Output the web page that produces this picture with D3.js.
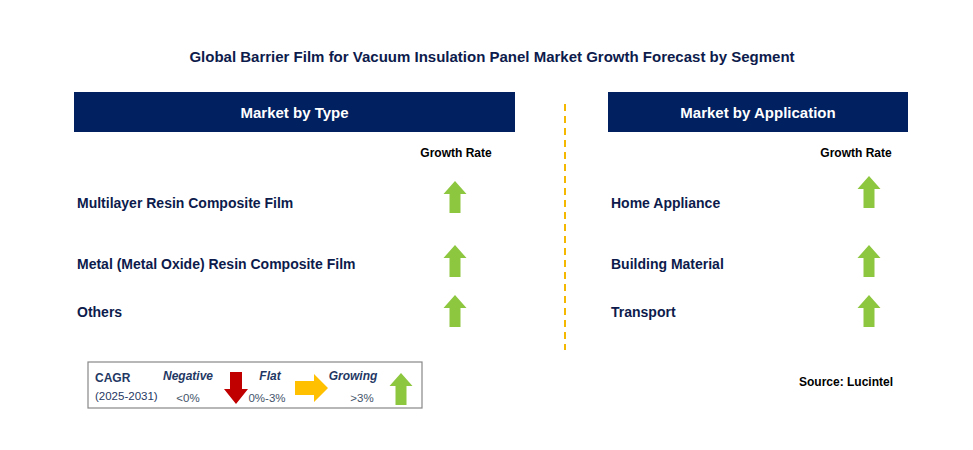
<!DOCTYPE html>
<html><head><meta charset="utf-8">
<script src="https://cdn.jsdelivr.net/npm/d3@7"></script>
<style>body{margin:0;background:#fff}text{font-family:Arial,"Liberation Sans",sans-serif}</style>
</head><body><svg id="c" width="973" height="450"></svg>
<script>
const typeCategories = ["Multilayer Resin Composite Film", "Metal (Metal Oxide) Resin Composite Film", "Others"];
const typeGrowth = ["growing", "growing", "growing"];
const appCategories = ["Home Appliance", "Building Material", "Transport"];
const appGrowth = ["growing", "growing", "growing"];
const legendLabels = ["Negative", "Flat", "Growing"];
const legendRanges = ["<0%", "0%-3%", ">3%"];

const svg = d3.select("#c");
const navy = "#002060", txt = "#0d1b4c";
const colors = {growing: "#8dc63f", negative: "#c00000", flat: "#ffc000"};

svg.append("text").attr("x", 492).attr("y", 62).attr("text-anchor", "middle")
  .attr("font-size", 15).attr("font-weight", "bold").attr("fill", txt)
  .text("Global Barrier Film for Vacuum Insulation Panel Market Growth Forecast by Segment");

function upArrow(g, cx, top, color) {
  const w = 23, sw = 11, hh = 13, h = 32;
  g.append("path").attr("fill", color).attr("d",
    `M${cx},${top} L${cx + w/2},${top + hh} L${cx + sw/2},${top + hh} L${cx + sw/2},${top + h} L${cx - sw/2},${top + h} L${cx - sw/2},${top + hh} L${cx - w/2},${top + hh} Z`);
}

function panel(x0, x1, title, cats, growth, ys, textX, arrowX, grX, rowTops) {
  svg.append("rect").attr("x", x0).attr("y", 92).attr("width", x1 - x0).attr("height", 40).attr("fill", navy);
  svg.append("text").attr("x", (x0 + x1) / 2).attr("y", 118).attr("text-anchor", "middle")
    .attr("fill", "#fff").attr("font-size", 15).attr("font-weight", "bold").text(title);
  svg.append("text").attr("x", grX).attr("y", 157).attr("text-anchor", "middle")
    .attr("fill", "#000").attr("font-size", 12).attr("font-weight", "bold").text("Growth Rate");
  const y = d3.scaleOrdinal().domain(cats).range(ys);
  const yt = d3.scaleOrdinal().domain(cats).range(rowTops);
  cats.forEach((c, i) => {
    svg.append("text").attr("x", textX).attr("y", y(c) + 5).attr("fill", txt)
      .attr("font-size", 14).attr("font-weight", "bold").text(c);
    upArrow(svg, arrowX, yt(c), colors[growth[i]]);
  });
}
panel(74, 515, "Market by Type", typeCategories, typeGrowth, [203, 264, 312], 77, 455, 456, [181, 245, 295]);
panel(608, 908, "Market by Application", appCategories, appGrowth, [203, 264, 312], 611, 869, 856, [176, 245, 295]);

svg.append("line").attr("x1", 565).attr("x2", 565).attr("y1", 104).attr("y2", 350)
  .attr("stroke", "#f5b800").attr("stroke-width", 2).attr("stroke-dasharray", "7,5");

// legend
const lg = svg.append("g");
lg.append("rect").attr("x", 88).attr("y", 362).attr("width", 334).attr("height", 46)
  .attr("fill", "#fff").attr("stroke", "#888").attr("stroke-width", 1.2);
lg.append("text").attr("x", 95).attr("y", 382).attr("fill", "#1f3864").attr("font-size", 12).attr("font-weight", "bold").text("CAGR");
lg.append("text").attr("x", 95).attr("y", 400).attr("fill", "#1f3864").attr("font-size", 11.5).text("(2025-2031)");
const lx = [188, 270, 353], rx = [188, 267, 362];
legendLabels.forEach((l, i) => {
  lg.append("text").attr("x", lx[i]).attr("y", 380).attr("text-anchor", "middle").attr("fill", "#1f3864")
    .attr("font-size", 12).attr("font-weight", "bold").attr("font-style", "italic").text(l);
  lg.append("text").attr("x", rx[i]).attr("y", 402).attr("text-anchor", "middle").attr("fill", "#44546a")
    .attr("font-size", 11.5).text(legendRanges[i]);
});
// down arrow
lg.append("path").attr("fill", colors.negative).attr("d",
  "M230,372 L242,372 L242,389 L248,389 L236,404 L224,389 L230,389 Z");
// right arrow
lg.append("path").attr("fill", colors.flat).attr("d",
  "M295,381 L314,381 L314,374 L328,388 L314,402 L314,395 L295,395 Z");
upArrow(lg, 401, 373, colors.growing);

svg.append("text").attr("x", 893).attr("y", 386).attr("text-anchor", "end").attr("fill", "#000")
  .attr("font-size", 12).attr("font-weight", "bold").text("Source: Lucintel");
</script></body></html>
